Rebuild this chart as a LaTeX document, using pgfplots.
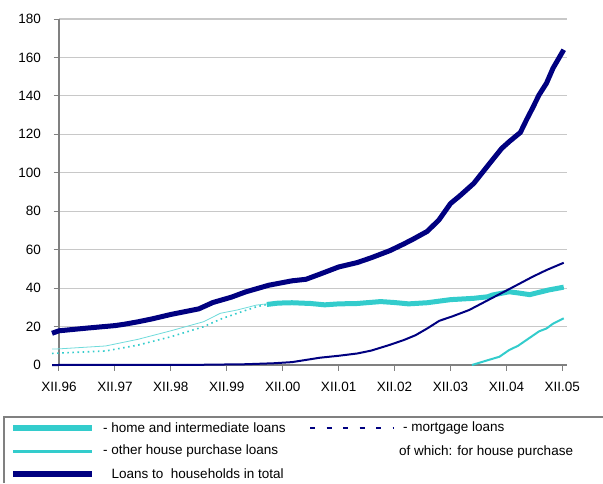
\documentclass[border=0pt]{standalone}
\usepackage{fontspec}
\setmainfont{Liberation Sans}
\usepackage{pgfplots}
\pgfplotsset{compat=1.18}
\definecolor{navy}{RGB}{0,0,128}
\definecolor{turq}{RGB}{51,204,204}
\definecolor{gridc}{RGB}{200,200,200}
\definecolor{axc}{RGB}{128,128,128}

\pgfplotstableread{
m v
-1.5 16.5
0 17.8
6 19.2
12 20.5
14 21.2
17 22.5
20 24
24 26.3
30 29.2
33 32.5
37 35.3
40 38
45 41.5
50 43.8
53 44.6
56 47.3
60 51
64 53.3
67 55.8
71 59.5
74 63
76 65.5
79 69.5
81.5 75.4
84 84
86 88
89 94.5
91 100.6
93 106.7
95 112.7
96.6 116.2
99 121
100.3 127.5
101.6 133.6
103 140.5
104.6 146.6
106 154.4
108.3 164
}\total

\pgfplotstableread{
m v
44.6 31.5
47 32.2
50 32.4
54 32
57 31.3
60 31.8
64 32
69 33
72 32.5
75 31.8
79 32.4
84 34
89 34.7
92 35.5
93 36.4
96.6 38.1
98.5 37.5
101 36.6
105 39
108.3 40.5
}\home

\pgfplotstableread{
m v
-1.5 6
0 6.2
10 7.3
17 10.4
24 14.7
31 19.9
34.6 23.8
38.2 26.9
42.4 30.3
44.6 31.5
}\homeearly

\pgfplotstableread{
m v
-1.5 8.3
0 8.4
10 9.9
17 13.4
24 17.8
31 22.5
34.6 26.9
38.2 28.6
42.4 31.2
44.6 31.8
}\thinearly

\pgfplotstableread{
m v
-1.5 0
30 0.1
40 0.4
46 0.9
50 1.5
56 3.8
60 4.8
64 6
67 7.5
71 10.5
74 13
76.5 15.5
79 19
81.6 23
84.4 25.3
88 28.6
91.7 33.3
97 40
101.6 45.9
104.6 49.4
108.3 53.2
}\mortgage

\pgfplotstableread{
m v
88.6 0
92 2.5
94.5 4.3
96.6 7.8
98.5 10
100.3 13
103 17.5
104.6 19
106 21.5
108.3 24.3
}\other

\begin{document}
\begin{tikzpicture}[x=1pt,y=1pt]
\path[use as bounding box] (0,0) rectangle (603,-483);
\begin{axis}[
  at={(59pt,-365pt)}, anchor=south west,
  scale only axis, width=508pt, height=346pt,
  xmin=0, xmax=109, ymin=0, ymax=180,
  clip=false,
  axis x line*=bottom, axis y line*=left,
  axis line style={axc, line width=1.2pt, -},
  xtick={0,12,...,108},
  xticklabels={XII.96,XII.97,XII.98,XII.99,XII.00,XII.01,XII.02,XII.03,XII.04,XII.05},
  ytick={0,20,...,180},
  ymajorgrids,
  grid style={gridc, line width=1.2pt},
  tick align=outside,
  major tick length=5.5pt,
  tick style={axc, line width=1pt},
  tick label style={font=\fontsize{13.5}{15}\selectfont, text=black},
  /pgf/number format/assume math mode=true,
  yticklabel style={xshift=-9pt},
  xticklabel style={yshift=-8pt},
]
\addplot[turq, line width=5pt, line join=round] table[x=m,y=v] {\home};
\addplot[turq, line width=1.6pt, dash pattern=on 1.6pt off 3.5pt] table[x=m,y=v] {\homeearly};
\addplot[turq!70, line width=0.8pt] table[x=m,y=v] {\thinearly};
\addplot[turq, line width=2pt, line join=round] table[x=m,y=v] {\other};
\addplot[navy, line width=2pt, line join=round] table[x=m,y=v] {\mortgage};
\addplot[navy, line width=5pt, line join=round] table[x=m,y=v] {\total};
\end{axis}
% legend box
\draw[axc, line width=2pt] (4,-483) -- (4,-417) -- (603,-417);
\draw[turq, line width=6pt] (13,-427.5) -- (92,-427.5);
\node[anchor=west, inner sep=0pt, font=\fontsize{13.5}{16}\selectfont] at (103,-427.5) {- home and intermediate loans};
\draw[navy, line width=2pt, dash pattern=on 5pt off 11.5pt] (310,-428) -- (393,-428);
\node[anchor=west, inner sep=0pt, font=\fontsize{13.5}{16}\selectfont] at (403,-428) {- mortgage loans};
\draw[turq, line width=3pt] (13,-451) -- (92,-451);
\node[anchor=west, inner sep=0pt, font=\fontsize{13.5}{16}\selectfont] at (103,-451) {- other house purchase loans};
\node[anchor=west, inner sep=0pt, font=\fontsize{13.5}{16}\selectfont] at (399,-452) {of which: for house purchase};
\draw[navy, line width=6pt] (13,-474) -- (92,-474);
\node[anchor=west, inner sep=0pt, font=\fontsize{13.5}{16}\selectfont] at (111.5,-474) {Loans to\ \ households in total};
\end{tikzpicture}
\end{document}
